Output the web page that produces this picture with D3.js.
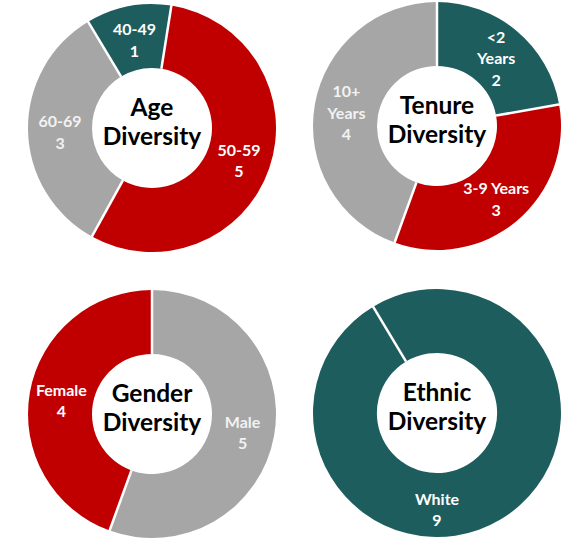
<!DOCTYPE html>
<html>
<head>
<meta charset="utf-8">
<script src="https://d3js.org/d3.v7.min.js"></script>
<style>
  body { margin: 0; background: #ffffff; }
  svg { display: block; }
</style>
</head>
<body>
<div id="chart"></div>
<script>
// ---- data ----
const ageLabels = ["40-49", "50-59", "60-69"];
const ageValues = [1, 5, 3];

const tenureLabels = ["<2\nYears", "3-9 Years", "10+\nYears"];
const tenureValues = [2, 3, 4];

const genderLabels = ["Male", "Female"];
const genderValues = [5, 4];

const ethnicLabels = ["White"];
const ethnicValues = [9];

const titles = [["Age", "Diversity"], ["Tenure", "Diversity"], ["Gender", "Diversity"], ["Ethnic", "Diversity"]];

// ---- style ----
const teal = "#1e5d5e", red = "#c00000", gray = "#a6a6a6";
const width = 569, height = 543;
const outerR = 124, innerR = 60;

const charts = [
  { labels: ageLabels, values: ageValues, colors: [teal, red, gray], cx: 152, cy: 128, start: -31, title: titles[0] },
  { labels: tenureLabels, values: tenureValues, colors: [teal, red, gray], cx: 437, cy: 126, start: 0, title: titles[1] },
  { labels: genderLabels, values: genderValues, colors: [gray, red], cx: 152, cy: 414, start: 0, title: titles[2] },
  { labels: ethnicLabels, values: ethnicValues, colors: [teal], cx: 437, cy: 413, start: -31, title: titles[3] }
];

const svg = d3.select("#chart").append("svg")
  .attr("width", width)
  .attr("height", height);

const arc = d3.arc().innerRadius(innerR).outerRadius(outerR);
const midR = (innerR + outerR) / 2;

charts.forEach(c => {
  const s = c.start * Math.PI / 180;
  const pie = d3.pie().sort(null).startAngle(s).endAngle(s + 2 * Math.PI);
  const slices = pie(c.values)
    .map((p, i) => Object.assign(p, { label: c.labels[i], color: c.colors[i] }));

  const g = svg.append("g").attr("transform", `translate(${c.cx},${c.cy})`);

  g.selectAll("path.slice")
    .data(slices)
    .join("path")
    .attr("class", "slice")
    .attr("d", arc)
    .attr("fill", d => d.color);

  // white separators at slice borders
  g.selectAll("line.sep")
    .data(slices)
    .join("line")
    .attr("class", "sep")
    .attr("x1", d => innerR * Math.sin(d.startAngle))
    .attr("y1", d => -innerR * Math.cos(d.startAngle))
    .attr("x2", d => (outerR + 1) * Math.sin(d.startAngle))
    .attr("y2", d => -(outerR + 1) * Math.cos(d.startAngle))
    .attr("stroke", "#ffffff")
    .attr("stroke-width", 2.5);

  // data labels
  slices.forEach(d => {
    const full = d.endAngle - d.startAngle > 2 * Math.PI - 1e-6;
    const a = full ? Math.PI : (d.startAngle + d.endAngle) / 2;
    const x = midR * Math.sin(a);
    const y = -midR * Math.cos(a) + (full ? 5 : 3);
    const lines = d.label.split("\n").concat([String(d.value)]);
    const t = g.append("text")
      .attr("text-anchor", "middle")
      .attr("font-family", "Lato, 'Open Sans', sans-serif")
      .attr("font-weight", "bold")
      .attr("font-size", 16)
      .attr("fill", d.color === gray ? "#f2f2f2" : "#ffffff");
    lines.forEach((ln, i) => {
      t.append("tspan")
        .attr("x", x)
        .attr("y", y + (i - (lines.length - 1) / 2) * 21.5 + 5.5)
        .text(ln);
    });
  });

  // centre title
  const tt = g.append("text")
    .attr("text-anchor", "middle")
    .attr("font-family", "Lato, 'Open Sans', sans-serif")
    .attr("font-weight", "bold")
    .attr("font-size", 24.5)
    .attr("fill", "#000000");
  c.title.forEach((ln, i) => {
    tt.append("tspan").attr("x", 0).attr("y", -12 + i * 29).text(ln);
  });
});
</script>
</body>
</html>
